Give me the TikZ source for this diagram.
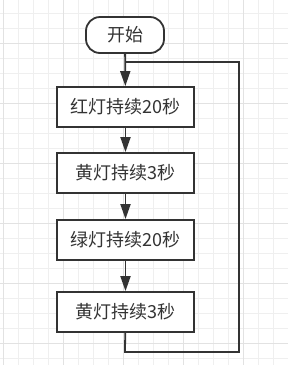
\documentclass[tikz,border=0pt]{standalone}
\usepackage{fontspec}
\setmainfont{Noto Sans CJK SC}
\usetikzlibrary{arrows.meta}
\definecolor{ink}{HTML}{333333}
\definecolor{gridminor}{HTML}{EFEFEF}
\definecolor{gridmajor}{HTML}{E2E2E2}
\begin{document}
\begin{tikzpicture}[x=1pt, y=-1pt,
    stepbox/.style={draw=ink, line width=1.8pt, fill=white, text=ink,
        minimum width=137pt, minimum height=40pt, inner sep=0pt,
        font=\fontsize{18}{21}\selectfont},
    startbox/.style={stepbox, minimum width=78pt, minimum height=36pt,
        rounded corners=14pt},
    link/.style={draw=ink, line width=1.8pt},
    flow/.style={link, -{Triangle[length=15pt, width=10pt]}}]
    \useasboundingbox (0,0) rectangle (288,365);
    \fill[white] (0,0) rectangle (288,365);
    % background grid
    \foreach \gx in {3,18,...,288}
        \draw[gridminor, line width=0.8pt] (\gx,0) -- (\gx,365);
    \foreach \gy in {13,28,...,365}
        \draw[gridminor, line width=0.8pt] (0,\gy) -- (288,\gy);
    \foreach \gx in {3,63,...,288}
        \draw[gridmajor, line width=0.8pt] (\gx,0) -- (\gx,365);
    \foreach \gy in {43,103,...,365}
        \draw[gridmajor, line width=0.8pt] (0,\gy) -- (288,\gy);
    % steps
    \node[startbox] (start) at (125,35) {开始};
    \node[stepbox] (red) at (125.5,107) {红灯持续20秒};
    \node[stepbox] (yellowA) at (125.5,173) {黄灯持续3秒};
    \node[stepbox] (green) at (125.5,240) {绿灯持续20秒};
    \node[stepbox] (yellowB) at (125.5,312) {黄灯持续3秒};
    \coordinate (join) at (125,62);
    \coordinate (loopA) at (125,352);
    \coordinate (loopB) at (239,352);
    \coordinate (loopC) at (239,62);
    % arrows
    \draw[flow] (start) -- (red);
    \draw[flow] (red) -- (yellowA);
    \draw[flow] (yellowA) -- (green);
    \draw[flow] (green) -- (yellowB);
    \draw[link] (yellowB) -- (loopA) -- (loopB) -- (loopC) -- (join);
\end{tikzpicture}
\end{document}
